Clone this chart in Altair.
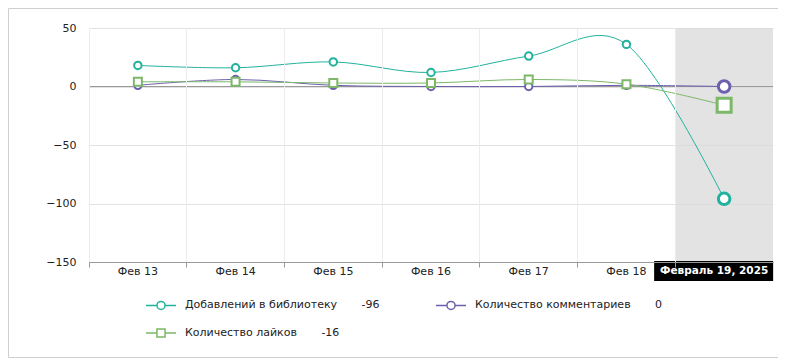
import altair as alt
import pandas as pd

days = ["Фев 13", "Фев 14", "Фев 15", "Фев 16", "Фев 17", "Фев 18", "Фев 19"]
last_day_label = "Февраль 19, 2025"
series_names = ["Добавлений в библиотеку", "Количество комментариев", "Количество лайков"]
library = [18, 16, 21, 12, 26, 36, -96]
comments = [1, 6, 1, 0, 0, 1, 0]
likes = [4, 4, 3, 3, 6, 2, -16]
series_colors = ["#22b29c", "#6b5fae", "#7cb868"]
y_ticks = [-150, -100, -50, 0, 50]

values_by_series = {series_names[0]: library, series_names[1]: comments, series_names[2]: likes}
color_of = dict(zip(series_names, series_colors))
rows = []
for s, vals in values_by_series.items():
    for i, (d, v) in enumerate(zip(days, vals)):
        rows.append({"day": d, "series": s, "value": v, "idx": i, "col": color_of[s]})
df = pd.DataFrame(rows)
last_day = days[-1]

W, H = 684, 234
FONT = "DejaVu Sans"

x_enc = alt.X("day:N", sort=days, scale=alt.Scale(domain=days, paddingInner=0, paddingOuter=0),
              axis=alt.Axis(title=None, bandPosition=0, grid=True, gridColor="#ececec",
                            domainColor="#999999", tickColor="#999999", tickSize=5,
                            labelFont=FONT, labelFontSize=11, labelColor="#222222", labelPadding=4,
                            labelAngle=0, labelAlign="center",
                            labelExpr=f"datum.value == '{last_day}' ? '' : datum.value"))
y_enc = alt.Y("value:Q", scale=alt.Scale(domain=[-150, 50], nice=False, zero=False),
              axis=alt.Axis(title=None, values=y_ticks, grid=True, gridColor="#e2e2e2",
                            domain=False, ticks=False, tickSize=0, labelPadding=13,
                            labelFont=FONT, labelFontSize=11, labelColor="#222222"))

legend_vals = {s: str(v[-1]) for s, v in values_by_series.items()}
pad = "\u00a0" * 7
label_expr = " : ".join(
    [f"datum.label == '{s}' ? datum.label + '{pad}' + '{legend_vals[s]}'" for s in series_names]
) + " : datum.label"

legend = alt.Legend(title=None, orient="none", legendX=56, legendY=261, columns=2,
                    direction="horizontal",
                    columnPadding=53, rowPadding=4, symbolSize=900, symbolStrokeWidth=1.5,
                    symbolOpacity=1,
                    labelFont=FONT, labelFontSize=11, labelColor="#222222", labelOffset=8,
                    labelLimit=400, labelExpr=label_expr)

base = alt.Chart(df)

band_df = pd.DataFrame({"day": [last_day]})
band = alt.Chart(band_df).mark_rect(color="#d9d9d9", opacity=0.75).encode(
    x=alt.X("day:N", sort=days), y=alt.value(0), y2=alt.value(H))

zero = alt.Chart(pd.DataFrame({"v": [0]})).mark_rule(color="#9a9a9a", strokeWidth=1).encode(
    y=alt.Y("v:Q"), x=alt.value(0), x2=alt.value(W))

lines = base.mark_line(interpolate="cardinal", strokeWidth=1).encode(
    x=x_enc, y=y_enc,
    stroke=alt.Stroke("col:N", scale=None),
    detail="series:N",
    order=alt.Order("idx:Q"),
)

is_last = alt.datum.day == last_day
circles = base.mark_point(shape="circle", filled=True, fill="white", opacity=1).encode(
    x=x_enc, y=y_enc,
    stroke=alt.Stroke("col:N", scale=None),
    size=alt.condition(is_last, alt.value(133), alt.value(55)),
    strokeWidth=alt.condition(is_last, alt.value(3), alt.value(2)),
).transform_filter(alt.datum.series != series_names[2])

squares = base.mark_point(shape="square", filled=True, fill="white", opacity=1).encode(
    x=x_enc, y=y_enc,
    stroke=alt.Stroke("col:N", scale=None),
    size=alt.condition(is_last, alt.value(196), alt.value(64)),
    strokeWidth=alt.condition(is_last, alt.value(3), alt.value(2)),
).transform_filter(alt.datum.series == series_names[2])

circle_path = "M-1,0H-0.27M0.27,0H1M-0.27,0A0.27,0.27,0,1,1,0.27,0A0.27,0.27,0,1,1,-0.27,0Z"
square_path = "M-1,0H-0.27M0.27,0H1M-0.27,-0.27H0.27V0.27H-0.27Z"
legend_df = pd.DataFrame({"series": series_names})
legend_layer = alt.Chart(legend_df).mark_point(clip=True, filled=False, strokeWidth=1.5,
                                               opacity=1).encode(
    y=alt.value(-500),
    color=alt.Color("series:N", scale=alt.Scale(domain=series_names, range=series_colors),
                    legend=legend),
    shape=alt.Shape("series:N", scale=alt.Scale(domain=series_names,
                                                range=[circle_path, circle_path, square_path]),
                    legend=legend),
)

label_df = pd.DataFrame({"day": [last_day], "label": [last_day_label]})
label_box = alt.Chart(label_df).mark_bar(color="black", width=119, xOffset=-10.5).encode(
    x=alt.X("day:N", sort=days), y=alt.value(233), y2=alt.value(253))
label_text = alt.Chart(label_df).mark_text(color="white", font=FONT, fontSize=10.5,
                                           fontWeight="bold", xOffset=-10, baseline="middle").encode(
    x=alt.X("day:N", sort=days), y=alt.value(243), text="label:N")

border = alt.Chart(pd.DataFrame({"a": [1]})).mark_rect(fillOpacity=0, stroke="#cfcfcf",
                                                       strokeWidth=1).encode(
    x=alt.value(-80.5), x2=alt.value(720), y=alt.value(-19.5), y2=alt.value(329.5))

chart = alt.layer(border, band, zero, lines, circles, squares, label_box, label_text,
                  legend_layer).properties(
    width=W, height=H,
    autosize=alt.AutoSizeParams(type="none"),
    padding={"left": 81, "top": 20, "right": 5, "bottom": 99},
    background="white",
).configure_view(stroke=None)

chart.save("out.html", embed_options={"renderer": "svg", "actions": False})
